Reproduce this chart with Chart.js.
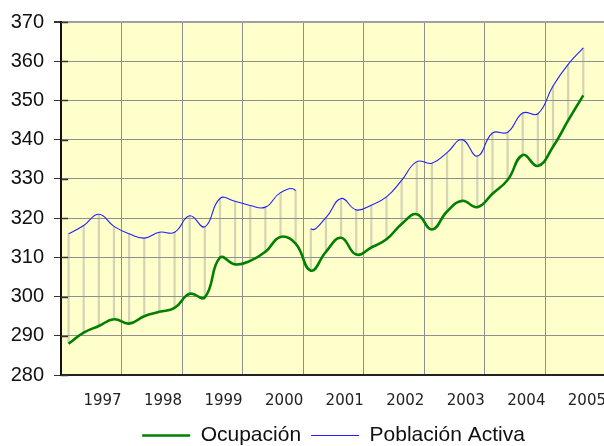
<!DOCTYPE html>
<html>
<head>
<meta charset="utf-8">
<script src="https://cdn.jsdelivr.net/npm/chart.js@4/dist/chart.umd.min.js"></script>
<style>
  html, body { margin: 0; padding: 0; background: #fff; overflow: hidden; }
  #wrap { width: 623px; height: 446px; position: relative; }
</style>
</head>
<body>
<div id="wrap"><canvas id="chart"></canvas></div>
<script>
// Year labels, one per yearly gridline (quarterly data in between)
const YEARS = ['1997', '1998', '1999', '2000', '2001', '2002', '2003', '2004', '2005'];

// Quarterly values
const OCUPACION = [
  288.0, 290.8, 292.5, 294.2, 293.1, 295.0, 296.1, 297.1, 300.7,
  299.8, 309.9, 308.2, 309.1, 311.4, 315.2, 313.5, 306.6, 311.4,
  315.0, 310.7, 312.5, 314.6, 318.5, 321.0, 317.1, 321.7, 324.4,
  322.8, 326.2, 329.7, 336.1, 333.3, 338.2, 344.9, 351.3
];
const ACTIVA = [
  316.0, 318.1, 321.0, 317.9, 316.0, 314.9, 316.4, 316.4, 320.6,
  317.8, 325.0, 324.3, 323.2, 322.8, 326.5, 327.0, 317.3, 320.1,
  325.0, 322.1, 323.3, 325.4, 329.6, 334.4, 334.0, 336.7, 340.0,
  335.8, 341.7, 341.9, 346.8, 346.6, 353.7, 359.2, 363.4
];
// the Población Activa line is broken between these two quarters
const BREAK_AFTER = 15;

const Y_MIN = 280, Y_MAX = 370, Y_STEP = 10;
const QUARTERS_PER_YEAR = 4;

// quarter k sits in the middle of its slot
const pts = arr => arr.map((v, k) => ({ x: k + 0.5, y: v }));

// yellow plot background
const plotBg = {
  id: 'plotBg',
  beforeDraw(chart) {
    const { ctx, chartArea: a } = chart;
    ctx.save();
    ctx.fillStyle = '#FFFFCC';
    ctx.fillRect(a.left, a.top, a.right - a.left, a.bottom - a.top);
    ctx.restore();
  }
};

// y tick marks also poke a little into the plot, like the original
const innerTicks = {
  id: 'innerTicks',
  afterDraw(chart) {
    const { ctx, chartArea: a, scales: { y } } = chart;
    ctx.save();
    ctx.strokeStyle = '#333';
    ctx.lineWidth = 1.5;
    y.ticks.forEach(t => {
      const py = Math.round(y.getPixelForValue(t.value)) + 0.5;
      ctx.beginPath();
      ctx.moveTo(a.left, py);
      ctx.lineTo(a.left + 7, py);
      ctx.stroke();
    });
    ctx.restore();
  }
};

new Chart(document.getElementById('chart'), {
  type: 'line',
  data: {
    datasets: [
      {
        label: 'Ocupación',
        data: pts(OCUPACION),
        borderColor: '#008000',
        backgroundColor: '#008000',
        borderWidth: 2.6,
        pointRadius: 0,
        pointStyle: 'line',
        tension: 0.45,
        order: 1,
      },
      {
        label: 'Población Activa',
        data: pts(ACTIVA),
        borderColor: '#2020ff',
        backgroundColor: '#2020ff',
        borderWidth: 1.1,
        pointRadius: 0,
        pointStyle: 'line',
        tension: 0.45,
        order: 2,
        segment: {
          borderColor: c => c.p0DataIndex === BREAK_AFTER ? 'rgba(0,0,0,0)' : undefined,
        },
      },
      {
        // high-low drop lines between the two series
        type: 'bar',
        label: 'drop',
        data: OCUPACION.map((v, k) => ({ x: k + 0.5, y: [v, ACTIVA[k]] })),
        backgroundColor: 'rgba(150,150,150,0.4)',
        barThickness: 1.6,
        order: 3,
      },
    ]
  },
  options: {
    responsive: true,
    maintainAspectRatio: false,
    animation: false,
    layout: { padding: { top: 19, right: 0, left: 0, bottom: -10 } },
    scales: {
      x: {
        type: 'linear',
        offset: false,
        min: 0,
        max: YEARS.length * QUARTERS_PER_YEAR,
        grid: { color: '#8f8f8f', lineWidth: 1, drawTicks: false, offset: false },
        border: { color: '#222', width: 2 },
        ticks: {
          stepSize: QUARTERS_PER_YEAR,
          autoSkip: false,
          maxRotation: 0,
          align: 'end',
          padding: 17,
          color: '#222',
          font: { family: 'DejaVu Sans', size: 15 },
          callback: v => v === 0 ? '' : YEARS[v / QUARTERS_PER_YEAR - 1],
        },
        afterFit: s => { s.height = 40; },
      },
      y: {
        min: Y_MIN,
        max: Y_MAX,
        grid: {
          color: c => c.tick && c.tick.value === Y_MAX ? '#a0a0a0' : '#8f8f8f',
          lineWidth: c => c.tick && c.tick.value === Y_MAX ? 2 : 1,
          tickLength: 7,
          tickColor: '#333',
        },
        border: { color: '#111', width: 2 },
        ticks: {
          stepSize: Y_STEP,
          padding: 10,
          color: '#111',
          font: { family: 'Liberation Sans', size: 20 },
        },
        afterFit: s => { s.width = 61; },
      },
    },
    plugins: {
      legend: {
        position: 'bottom',
        fullSize: false,
        labels: {
          usePointStyle: true,
          pointStyleWidth: 48,
          padding: 10,
          color: '#111',
          font: { family: 'Liberation Sans', size: 21 },
          filter: item => item.text !== 'drop',
        },
      },
      tooltip: { enabled: false },
    },
  },
  plugins: [plotBg, innerTicks],
});
</script>
</body>
</html>
